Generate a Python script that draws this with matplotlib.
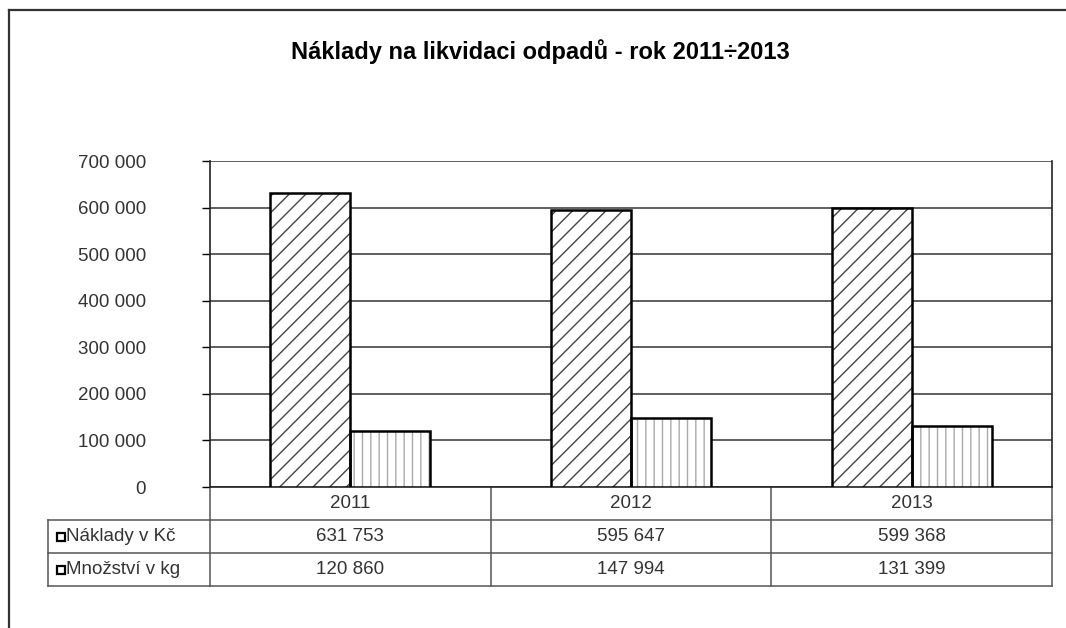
import numpy as np
import matplotlib.pyplot as plt
from matplotlib.lines import Line2D

plt.rcParams['font.family'] = ['Liberation Sans', 'DejaVu Sans']

# data
years = ['2011', '2012', '2013']
naklady = [631753, 595647, 599368]
mnozstvi = [120860, 147994, 131399]
series_names = ['Náklady v Kč', 'Množství v kg']
yticks = np.arange(0, 700001, 100000)


def fmt(v):
    # czech style thousands separator
    return '{:,}'.format(v).replace(',', ' ')


W, H = 1066, 628
fig = plt.figure(figsize=(W / 100, H / 100), dpi=100)

# plot area in pixels: x 210..1052, y 161..487
px_l, px_r, px_t, px_b = 210, 1052, 161, 487
ax = fig.add_axes([px_l / W, 1 - px_b / H, (px_r - px_l) / W, (px_b - px_t) / H])

x = np.arange(len(years))
bw = 0.285
fs = 13.5
tcol = '#333333'
# hatches first (gray lines), then black outlines on top
ax.bar(x - bw / 2, naklady, bw, color='white', hatch='//', edgecolor='#444444', linewidth=0, zorder=3)
ax.bar(x - bw / 2, naklady, bw, fill=False, edgecolor='black', linewidth=1.8, zorder=4)
ax.bar(x + bw / 2, mnozstvi, bw, color='white', hatch='||', edgecolor='#aaaaaa', linewidth=0, zorder=3)
ax.bar(x + bw / 2, mnozstvi, bw, fill=False, edgecolor='black', linewidth=1.8, zorder=4)

ax.set_xlim(-0.5, len(years) - 0.5)
ax.set_ylim(0, 700000)
ax.set_yticks(yticks)
ax.set_yticklabels([fmt(v) for v in yticks], fontsize=fs, color=tcol)
ax.tick_params(axis='y', length=6, width=1, color='black', pad=40)
ax.set_xticks([])
ax.grid(axis='y', color='#333333', linewidth=1.1, zorder=0)
for s in ['left', 'right', 'bottom']:
    ax.spines[s].set_color('#222222')
    ax.spines[s].set_linewidth(1.2)
ax.spines['top'].set_visible(False)

# data table under the plot
rh = 33 / (px_b - px_t)
lab_l = (48 - px_l) / (px_r - px_l)
n = len(years)
lc = '#555555'
tkw = dict(transform=ax.transAxes, clip_on=False, color=lc, linewidth=1.1)
ax.plot([0, 0], [0, -3 * rh], **tkw)
ax.plot([1, 1], [0, -3 * rh], **tkw)
for i in range(1, n):
    ax.plot([i / n, i / n], [0, -3 * rh], **tkw)
for r in range(1, 4):
    ax.plot([lab_l, 1], [-r * rh, -r * rh], **tkw)
ax.plot([lab_l, lab_l], [-rh, -3 * rh], **tkw)

for i, yr in enumerate(years):
    cx = (i + 0.5) / n
    ax.text(cx, -0.5 * rh, yr, transform=ax.transAxes, ha='center', va='center',
            fontsize=fs, color=tcol)
    ax.text(cx, -1.5 * rh, fmt(naklady[i]), transform=ax.transAxes, ha='center',
            va='center', fontsize=fs, color=tcol)
    ax.text(cx, -2.5 * rh, fmt(mnozstvi[i]), transform=ax.transAxes, ha='center',
            va='center', fontsize=fs, color=tcol)

key_x = (61 - px_l) / (px_r - px_l)
txt_x = (66 - px_l) / (px_r - px_l)
for r, name in enumerate(series_names):
    yy = -(r + 1.5) * rh
    ax.plot([key_x], [yy], marker='s', markersize=6, markerfacecolor='white',
            markeredgecolor='black', markeredgewidth=1.6, transform=ax.transAxes, clip_on=False)
    ax.text(txt_x, yy, name, transform=ax.transAxes, ha='left', va='center',
            fontsize=fs, color=tcol)

# title
fig.text(540 / W, 1 - 52 / H, 'Náklady na likvidaci odpadů - rok 2011÷2013',
         ha='center', va='center', fontsize=17, fontweight='bold', color='black')

# outer frame (top and left only)
fig.add_artist(Line2D([9 / W, 9 / W], [0, 1 - 10 / H], transform=fig.transFigure,
                      color='#333333', linewidth=1.6))
fig.add_artist(Line2D([9 / W, 1], [1 - 10 / H, 1 - 10 / H], transform=fig.transFigure,
                      color='#333333', linewidth=1.6))

fig.savefig('out.png', dpi=100)
